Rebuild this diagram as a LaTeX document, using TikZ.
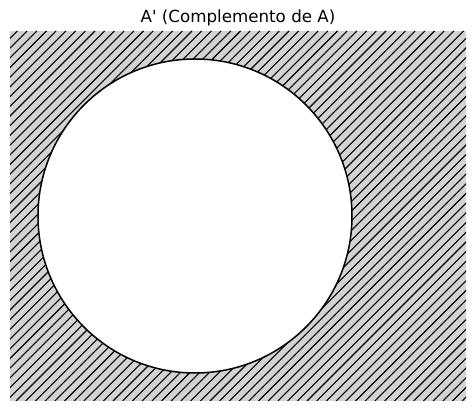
\documentclass[tikz,border=0pt]{standalone}
\usepackage{fontspec}
\newfontfamily\titlefont{DejaVu Sans}
\definecolor{hatchbg}{RGB}{211,211,211}
\tikzset{
  hatchline/.style={black, line width=1.1pt},
  setcircle/.style={draw=black, fill=white, line width=1.5pt},
  titletext/.style={font=\titlefont\fontsize{16.7}{20}\selectfont, inner sep=0pt}
}
\begin{document}
\begin{tikzpicture}[x=1pt,y=-1pt]
\useasboundingbox (0,0) rectangle (475,411);
\fill[hatchbg] (10,31) rectangle (466,401);
\begin{scope}
\clip (10,31) rectangle (466,401);
\foreach \k in {-372,-362.3,...,470} {
  \draw[hatchline] (\k,401) -- ++(370,-370);
}
\end{scope}
\node[setcircle, circle, minimum size=314pt, inner sep=0pt] (A) at (195,216) {};
\node[titletext] (title) at (238,18) {A' (Complemento de A)};
\end{tikzpicture}
\end{document}
